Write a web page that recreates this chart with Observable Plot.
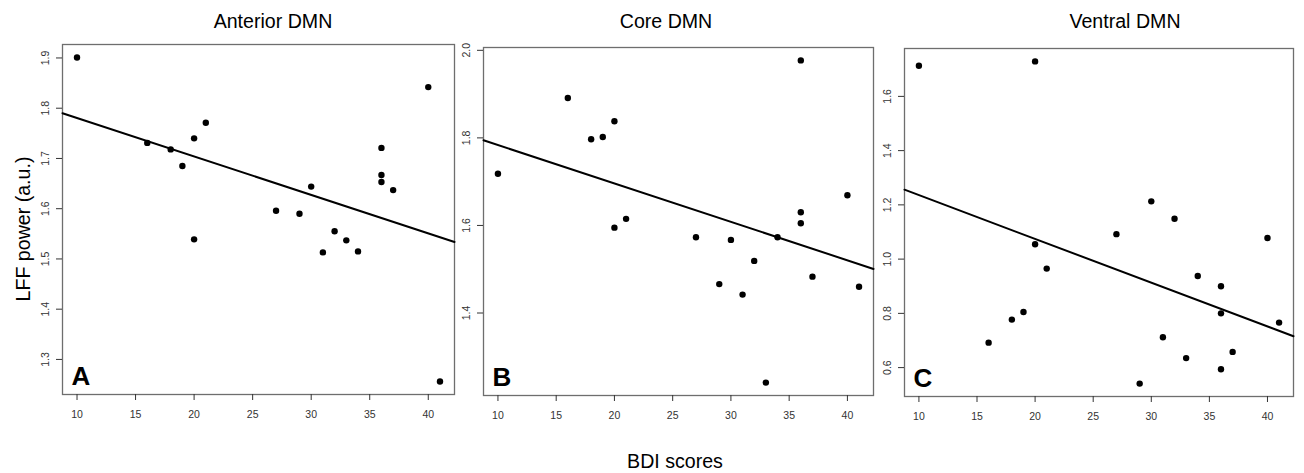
<!DOCTYPE html>
<html>
<head>
<meta charset="utf-8">
<script src="https://cdn.jsdelivr.net/npm/d3@7"></script>
<script src="https://cdn.jsdelivr.net/npm/@observablehq/plot@0.6"></script>
<style>
  body { margin: 0; background: #fff; font-family: "Liberation Sans", Arial, sans-serif; }
  #fig { position: relative; width: 1304px; height: 473px; overflow: hidden; background: #fff; }
  #fig svg { position: absolute; }
  .lbl { position: absolute; font-size: 19.6px; line-height: 1; color: #000; white-space: nowrap; }
</style>
</head>
<body>
<div id="fig"></div>
<script>
// BDI scores of the 20 participants (same order in every panel)
const bdi = [10, 16, 18, 19, 20, 20, 21, 27, 29, 30, 31, 32, 33, 34, 36, 36, 36, 37, 40, 41];

// LFF power (a.u.) per DMN subsystem
const anterior = [1.901, 1.731, 1.718, 1.685, 1.740, 1.539, 1.771, 1.596, 1.590, 1.644,
                  1.513, 1.555, 1.537, 1.515, 1.721, 1.667, 1.653, 1.637, 1.842, 1.256];
const core     = [1.718, 1.891, 1.797, 1.802, 1.838, 1.595, 1.615, 1.573, 1.466, 1.567,
                  1.442, 1.519, 1.241, 1.573, 1.977, 1.630, 1.605, 1.483, 1.669, 1.460];
const ventral  = [1.713, 0.692, 0.777, 0.805, 1.729, 1.055, 0.965, 1.092, 0.541, 1.213,
                  0.712, 1.149, 0.635, 0.938, 0.900, 0.800, 0.594, 0.658, 1.078, 0.766];

// Tick values and labels
const xTicks = [10, 15, 20, 25, 30, 35, 40];
const anteriorTicks = [1.3, 1.4, 1.5, 1.6, 1.7, 1.8, 1.9];
const coreTicks = [1.4, 1.6, 1.8, 2.0];
const ventralTicks = [0.6, 0.8, 1.0, 1.2, 1.4, 1.6];
const titles = ["Anterior DMN", "Core DMN", "Ventral DMN"];
const letters = ["A", "B", "C"];
const xTitle = "BDI scores";
const yTitle = "LFF power (a.u.)";

const FONT = "Liberation Sans, Arial, sans-serif";
const fig = document.getElementById("fig");

// extent widened by 4% on each side
function padded(values) {
  const [lo, hi] = d3.extent(values);
  const r = hi - lo;
  return [lo - 0.04 * r, hi + 0.04 * r];
}

// ordinary least squares fit: returns [intercept, slope]
function fit(xs, ys) {
  const mx = d3.mean(xs), my = d3.mean(ys);
  const sxy = d3.sum(xs, (x, i) => (x - mx) * (ys[i] - my));
  const sxx = d3.sum(xs, x => (x - mx) ** 2);
  const b = sxy / sxx;
  return [my - b * mx, b];
}

const panels = [
  {values: anterior, ticks: anteriorTicks, box: [62, 44, 392, 350], titleX: 273},
  {values: core, ticks: coreTicks, box: [483, 47, 390, 348], titleX: 666},
  {values: ventral, ticks: ventralTicks, box: [904, 48, 389, 348], titleX: 1125}
];

const mL = 40, mR = 3, mT = 4, mB = 30;
const xDomain = padded(bdi);

panels.forEach((p, k) => {
  const [left, top, w, h] = p.box;
  const rows = bdi.map((x, i) => ({x, y: p.values[i]}));
  const [a, b] = fit(bdi, p.values);
  const fitLine = xDomain.map(x => ({x, y: a + b * x}));

  const chart = Plot.plot({
    width: w + mL + mR,
    height: h + mT + mB,
    marginLeft: mL, marginRight: mR, marginTop: mT, marginBottom: mB,
    style: {background: "transparent", fontFamily: FONT, overflow: "visible"},
    x: {domain: xDomain},
    y: {domain: padded(p.values)},
    marks: [
      Plot.frame({stroke: "#6e6e6e", strokeWidth: 1.3}),
      Plot.axisX(xTicks, {tickSize: 6, tickPadding: 10, fontSize: 10.5, color: "#333", label: null}),
      Plot.axisY(p.ticks, {tickSize: 6, tickPadding: 8, tickRotate: -90, fontSize: 10.5, color: "#333",
                           tickFormat: d => d.toFixed(1), label: null}),
      Plot.line(fitLine, {x: "x", y: "y", stroke: "#000", strokeWidth: 2}),
      Plot.dot(rows, {x: "x", y: "y", r: 3.2, fill: "#000", stroke: "none"}),
      Plot.text([letters[k]], {frameAnchor: "bottom-left", text: d => d, dx: 9, dy: -10,
                               lineAnchor: "bottom", textAnchor: "start",
                               fontSize: 26, fontWeight: "bold", fill: "#000"})
    ]
  });
  chart.style.left = (left - mL) + "px";
  chart.style.top = (top - mT) + "px";
  fig.appendChild(chart);

  const t = document.createElement("div");
  t.className = "lbl";
  t.textContent = titles[k];
  t.style.left = p.titleX + "px";
  t.style.top = "12px";
  t.style.transform = "translateX(-50%)";
  fig.appendChild(t);
});

const xl = document.createElement("div");
xl.className = "lbl";
xl.textContent = xTitle;
xl.style.left = "675px";
xl.style.top = "452px";
xl.style.transform = "translateX(-50%)";
fig.appendChild(xl);

const yl = document.createElement("div");
yl.className = "lbl";
yl.textContent = yTitle;
yl.style.left = "23.5px";
yl.style.top = "228.5px";
yl.style.transform = "translate(-50%, -50%) rotate(-90deg)";
fig.appendChild(yl);
</script>
</body>
</html>
